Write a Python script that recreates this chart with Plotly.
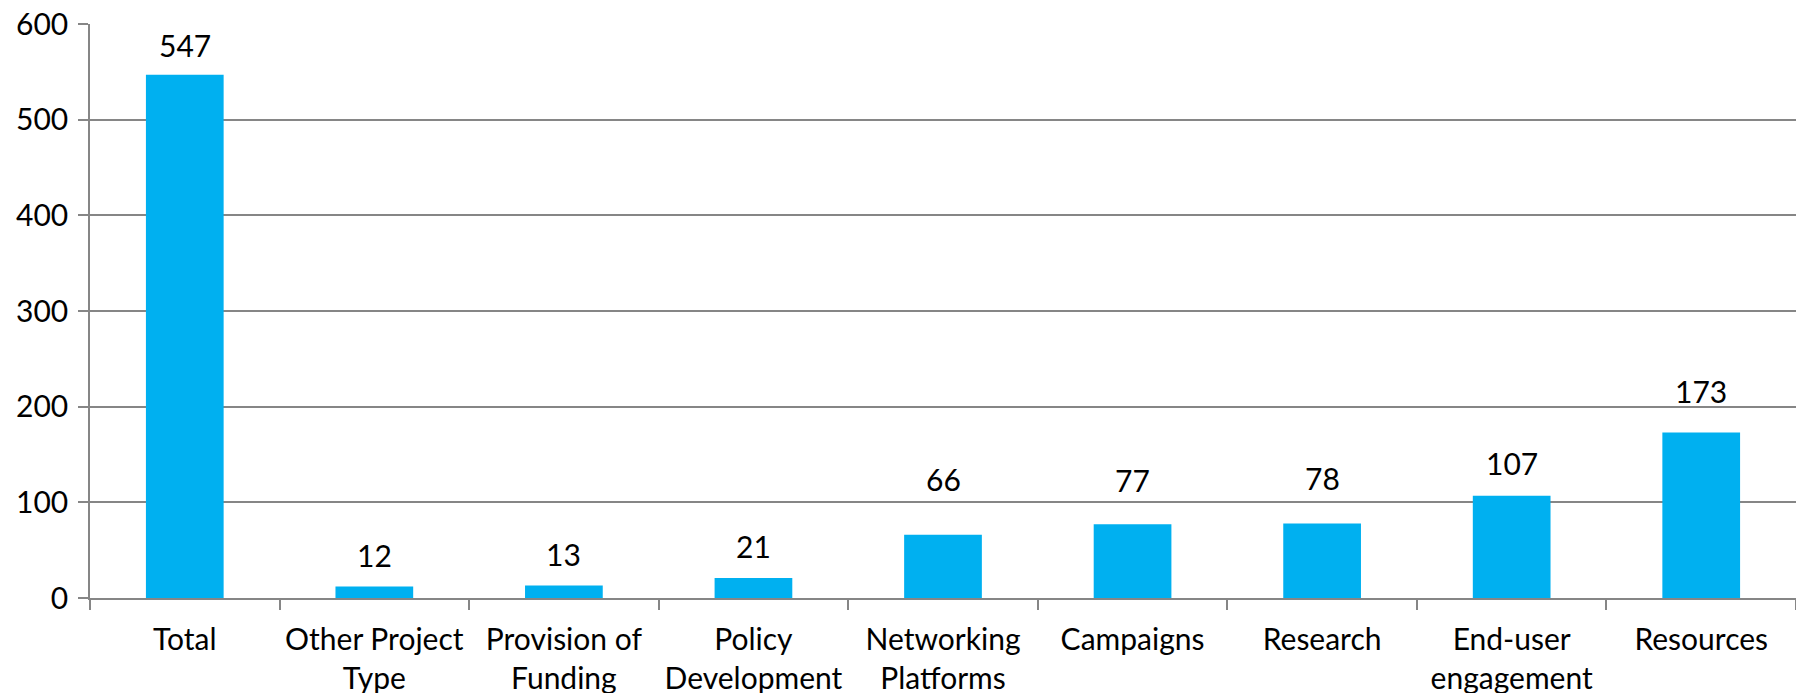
import plotly.graph_objects as go

categories = ["Total", "Other Project<br>Type", "Provision of<br>Funding", "Policy<br>Development",
              "Networking<br>Platforms", "Campaigns", "Research", "End-user<br>engagement", "Resources"]
values = [547, 12, 13, 21, 66, 77, 78, 107, 173]
y_ticks = [0, 100, 200, 300, 400, 500, 600]

# pixel gap between each value label's baseline and its bar top
label_gap = [18, 20, 20, 20, 44, 32, 33, 21, 30]

BAR = "#00B0F0"
GRID = "#868686"
FONT = "Lato"
SIZE = 30

fig = go.Figure(go.Bar(x=categories, y=values, marker=dict(color=BAR, line=dict(width=0)), width=0.41))

for c, v, g in zip(categories, values, label_gap):
    fig.add_annotation(x=c, y=v, text=str(v), showarrow=False, yanchor="bottom", yshift=g - 8,
                       font=dict(family=FONT, size=SIZE, color="#000000"))

fig.update_layout(
    width=1796, height=693,
    margin=dict(l=90, r=0, t=24, b=95),
    paper_bgcolor="white", plot_bgcolor="white",
    showlegend=False,
    font=dict(family=FONT, size=SIZE, color="#000000"),
)
fig.update_yaxes(range=[0, 600], tickvals=y_ticks, showgrid=True, gridcolor=GRID, gridwidth=1.5,
                 showline=True, linecolor=GRID, linewidth=1.5, ticks="outside", ticklen=10,
                 tickcolor=GRID, tickwidth=1.5, zeroline=False, ticklabelstandoff=4,
                 automargin=False)
fig.update_xaxes(showline=True, linecolor=GRID, linewidth=1.5, ticks="outside", ticklen=10,
                 tickcolor=GRID, tickwidth=1.5, tickson="boundaries", showgrid=False,
                 tickangle=0, ticklabelstandoff=14, automargin=False)

fig.write_html("out.html")
